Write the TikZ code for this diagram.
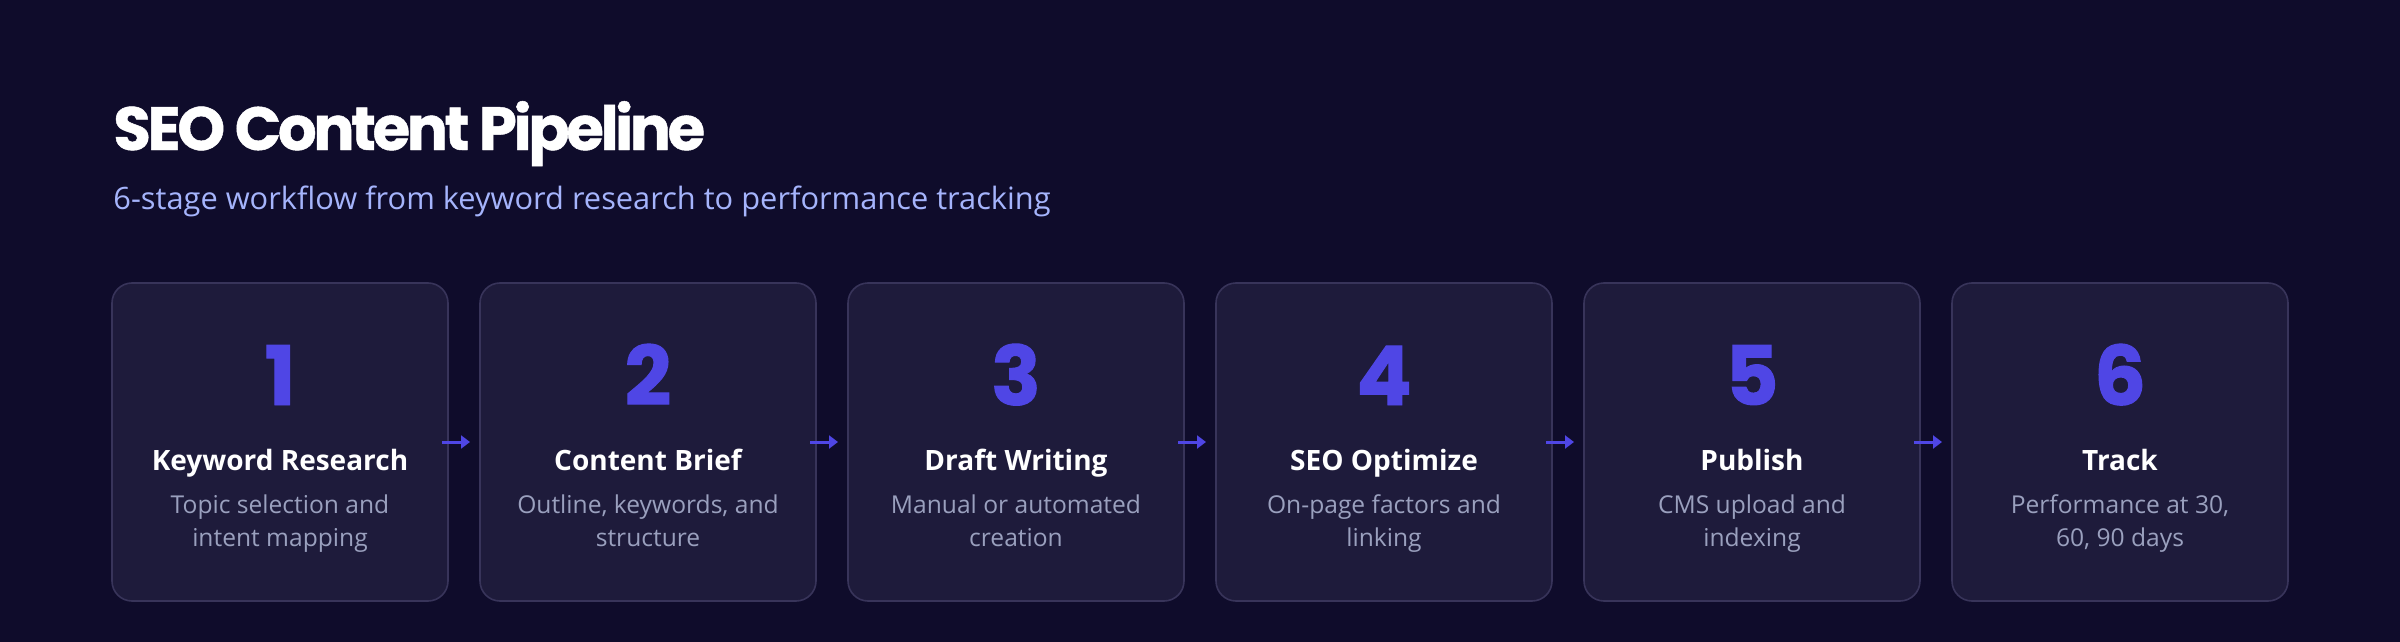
\documentclass[tikz,border=0pt]{standalone}
\usepackage{fontspec}
\setmainfont{Open Sans}
\newfontfamily\pop{Poppins}[LetterSpace=-5.5, BoldFeatures={FakeBold=0.8}]
\newfontfamily\popd{Poppins}[BoldFeatures={FakeBold=1.2}]
\usetikzlibrary{arrows.meta}
\definecolor{bg}{HTML}{0F0C2B}
\definecolor{boxfill}{HTML}{1E1B3B}
\definecolor{boxline}{HTML}{38345A}
\definecolor{accent}{HTML}{4F46E5}
\definecolor{subcol}{HTML}{A5B4FC}
\definecolor{desccol}{HTML}{9AA0BE}
\tikzset{
  stagebox/.style={draw=boxline, line width=0.8pt, fill=boxfill, rounded corners=10pt,
    minimum width=168pt, minimum height=159pt, inner sep=0pt, outer sep=0pt},
  digit/.style={text=accent, font=\popd\bfseries\fontsize{41}{41}\selectfont, inner sep=0pt, anchor=base},
  stagetitle/.style={text=white, font=\bfseries\fontsize{14}{16}\selectfont, inner sep=0pt, anchor=base},
  stagedesc/.style={text=desccol, font=\fontsize{12.3}{16.5}\selectfont, align=center, inner sep=0pt, anchor=base},
  flow/.style={draw=accent, line width=1.5pt, -{Triangle[length=4.5pt,width=6.5pt]}},
}
\begin{document}
\begin{tikzpicture}[x=0.5pt,y=-0.5pt]
\fill[bg] (0,0) rectangle (2400,642);
\useasboundingbox (0,0) rectangle (2400,642);
\node[anchor=base west, inner sep=0pt, text=white, font=\pop\bfseries\fontsize{30.5}{32}\selectfont] (title) at (113,150) {SEO Content Pipeline};
\node[anchor=base west, inner sep=0pt, text=subcol, font=\fontsize{15.4}{18}\selectfont] (subtitle) at (113,209) {6-stage workflow from keyword research to performance tracking};
\foreach \i/\n/\t/\d in {
  1/1/{Keyword Research}/{Topic selection and\\intent mapping},
  2/2/{Content Brief}/{Outline, keywords, and\\structure},
  3/3/{Draft Writing}/{Manual or automated\\creation},
  4/4/{SEO Optimize}/{On-page factors and\\linking},
  5/5/{Publish}/{CMS upload and\\indexing},
  6/6/{Track}/{Performance at 30,\\60, 90 days}}{
  \pgfmathsetmacro{\cx}{280+368*(\i-1)}
  \node[stagebox] (b\i) at (\cx,442) {};
  \node[digit] (n\i) at (\cx,405) {\n};
  \node[stagetitle] (t\i) at (\cx,470) {\t};
  \node[stagedesc] (d\i) at (\cx,546) {\d};
}
\foreach \i [evaluate=\i as \j using int(\i+1)] in {1,...,5}{
  \draw[flow] ([xshift=-3pt]b\i.east) -- ([xshift=-5pt]b\j.west);
}
\end{tikzpicture}
\end{document}
